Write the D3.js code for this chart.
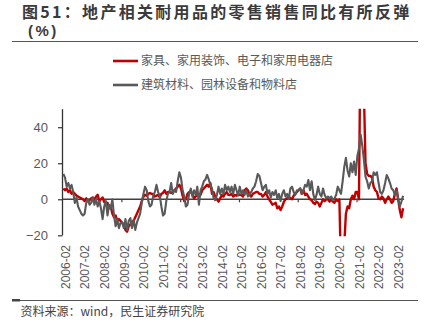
<!DOCTYPE html>
<html><head><meta charset="utf-8">
<script src="https://cdn.jsdelivr.net/npm/d3@7/dist/d3.min.js"></script>
<style>
html,body{margin:0;padding:0;background:#fff;}
svg{display:block;font-family:"Noto Sans CJK SC","Noto Sans",sans-serif;}
</style></head>
<body>
<svg id="chart" width="428" height="335"></svg>
<script>
// ---- data ----
const titleText = "图51：地产相关耐用品的零售销售同比有所反弹";
const unitText = "(%)";
const seriesNames = ["家具、家用装饰、电子和家用电器店", "建筑材料、园林设备和物料店"];
const sourceText = "资料来源：wind，民生证券研究院";
const startMonth = "2006-01";
const xTickLabels = ["2006-02","2007-02","2008-02","2009-02","2010-02","2011-02","2012-02","2013-02","2014-02","2015-02","2016-02","2017-02","2018-02","2019-02","2020-02","2021-02","2022-02","2023-02"];
const minorTickMonths = ["2009-01","2012-01","2015-01","2018-01","2021-01"];
const yTicks = [-20, 0, 20, 40];

// 家具、家用装饰、电子和家用电器店 (monthly YoY %, 2006-01 .. 2023-05)
const furniture = [
  6, 5, 6, 4, 5, 3, 4, 3, 2, 1.5, 1, 0.5,
  0, -1, 0.5, -1, -0.5, 0.5, 1, -0.5, 1.5, 2.5, -1, 0,
  1, -1.5, -3, -2, -5, -4, -8, -10, -9, -12, -11, -12,
  -13, -14, -17, -18, -15, -14, -12.5, -12, -10, -8, -6, -4,
  -1, 1.5, 2.5, 2, 3, 3.5, 3, 3, 1.5, 2, 2.4, 1,
  3, 3.5, 5, 3, 4, 4, 3.5, 4, 5, 6, 7, 8,
  6, 2, -1, 0, 3, 4, 4, 3, 0.5, 1.5, 2.4, 3,
  2.4, 5, 6, 7, 8, 7, 9, 3, 4, 1.5, 0, -1.3,
  0.5, 2.4, 1.5, 3, 4, 2.5, 2.4, 3, 1.5, 2.4, 2, 3,
  2.4, 2.4, 1.5, 5, 6, 5, 2.4, 1.5, 3, 3.5, 4, 4,
  3, 3, 1.5, 2.4, 4, 1.5, 0, -1.5, -3, -2.5, -2, -5,
  -4, -6, -4, -1.5, 0, 0.5, 1.5, 0.5, 0, 2, 3, 4,
  5, 6, 3, 5, 2.4, 3, 1.5, 0, -0.5, -2, -2.6, -1.3,
  -2, -4, -2, 0, -1, 0, 0, -1.3, 0, -1.3, -2, 0,
  -1, 0, -40, -65, -25, -8, -4, -5, 0, 2, 0, 4,
  4, 0, 100, 150, 60, 20, 14, 13, 13, 12, 7, 5,
  4, 0.5, 0, 1.5, 0.5, -2, 0, 1.5, 0, -2, -1, 3,
  6, 0, -6, -10, -5
];
// 建筑材料、园林设备和物料店
const building = [
  14, 12, 7, 9, 6, 8, 4, -2, 1, -4, -6, -8,
  -9, -8, -2, 0, -3, -2, 1, -3, 0, -4, -1, -5,
  -11, -4, -1, -9, -3, -5, 0, -9, -15, -11, -16, -13,
  -13, -16, -11, -17, -12, -10.5, -16, -11.5, -17, -13, -10.5, -8,
  -2, 3, 7, 5, -1, -4, -3, 2, 4, 8, 4, 2,
  -4, -9, -8, -1, 3, 4, 9, 3, 5, 4, 10, 15,
  12, 5, 1.5, -4, -3, 3, 6, 1.5, 5, 2.4, 7, -3,
  5, 7, 10, 11, 13.5, 11, 8, 6, 0.5, -0.5, 2.4, 7,
  3, 6, 3, 8, 5, 7, 4, 7, 3, 8, 5, 2,
  7, 3, 5, 2.4, 5, 1.5, 3, 4, 6, 7, 10, 14,
  13, 9, 5, 7, 8, 3, 5, 1, 4, 2.4, 5, 0.5,
  3, -1, 3, 5, 1.5, 3, 0, 6, 7, 4, 2.4, 5,
  5, 6, 3, 5, 8, 7, 10.7, 5, 10, 3, -0.4, 2.4,
  7, 3, 1.5, 6, 2.4, 0.5, 1.5, 0.5, 1.5, -0.4, 0.5, 2.4,
  7, 5, 3, 10, 18, 23, 16, 12.6, 20, 15, 21, 13.5,
  24, 28, 36, 30, 22, 12.6, 10, 6, 9, 10, 15, 13.5,
  15, 9, 4, 3, 5, 9, 13.5, 11.6, 9, 6, 5, 2.4,
  5, 0.5, -4, -1.3, 2
];

// ---- build categories ----
const fmt = d3.timeFormat("%Y-%m");
const parse = d3.timeParse("%Y-%m");
const months = d3.timeMonth.range(parse(startMonth), d3.timeMonth.offset(parse(startMonth), furniture.length)).map(fmt);

const svg = d3.select("#chart");

const x = d3.scalePoint().domain(months).range([63.4, 63.4 + 1.633 * (months.length - 1)]);
const y = d3.scaleLinear().domain([-20, 50]).range([235.3, 109.2]);

// title
svg.append("text").attr("x", 22).attr("y", 17.5)
  .attr("font-size", 16).attr("font-weight", "bold").attr("fill", "#3a3a3a")
  .attr("letter-spacing", "2.3px").text(titleText);
svg.append("text").attr("x", 28).attr("y", 35.5)
  .attr("font-size", 15).attr("font-weight", "bold").attr("fill", "#3a3a3a")
  .attr("font-family", "'Liberation Sans',Arial,sans-serif")
  .attr("letter-spacing", "2.5px").text(unitText);
svg.append("line").attr("x1", 12).attr("x2", 418).attr("y1", 41.5).attr("y2", 41.5)
  .attr("stroke", "#555").attr("stroke-width", 1.2);

// legend
const colors = ["#C00000", "#595959"];
const legendY = [61, 85];
seriesNames.forEach((n, i) => {
  svg.append("line").attr("x1", 113).attr("x2", 138).attr("y1", legendY[i]).attr("y2", legendY[i])
    .attr("stroke", colors[i]).attr("stroke-width", 2.6);
  svg.append("text").attr("x", 141).attr("y", legendY[i]).attr("dy", "0.36em")
    .attr("font-size", 12).attr("fill", "#595959").text(n);
});

// y axis
const yAxis = svg.append("g").attr("transform", "translate(62.5,0)")
  .call(d3.axisLeft(y).tickValues(yTicks).tickSize(4.5).tickPadding(10).tickSizeOuter(0));
yAxis.select(".domain").attr("stroke", "#333").attr("stroke-width", 1.3).attr("d", `M0,${y(50)}V${y(-20)}`);
yAxis.selectAll(".tick line").attr("stroke", "#333").attr("stroke-width", 1.2);
yAxis.selectAll("text").attr("font-size", 13).attr("fill", "#595959")
  .attr("font-family", "'Liberation Sans',Arial,sans-serif");

// zero axis line with ticks
const zeroAxis = svg.append("g").attr("transform", `translate(0,${y(0)})`)
  .call(d3.axisBottom(x).tickValues(minorTickMonths).tickSize(3).tickFormat("").tickSizeOuter(0));
zeroAxis.select(".domain").attr("stroke", "#404040").attr("stroke-width", 1.3)
  .attr("d", `M62.5,0H${x(months[months.length - 1]) + 1}`);
zeroAxis.selectAll(".tick line").attr("stroke", "#404040").attr("stroke-width", 1.2)
  .attr("transform", "translate(-0.8,0)");

// x labels
const xAxis = svg.append("g").attr("transform", "translate(0,236)")
  .call(d3.axisBottom(x).tickValues(xTickLabels).tickSize(0));
xAxis.select(".domain").remove();
xAxis.selectAll("text")
  .attr("transform", "rotate(-90)").attr("x", -9).attr("y", 0).attr("dy", "0.35em")
  .style("text-anchor", "end").attr("font-size", 12).attr("fill", "#595959")
  .attr("font-family", "'Liberation Sans',Arial,sans-serif");

// clip
svg.append("clipPath").attr("id", "plotclip").append("rect")
  .attr("x", 60).attr("y", y(50) - 0.5).attr("width", 360).attr("height", y(-20) - y(50) + 1.5);

const line = d3.line().x((d, i) => x(months[i])).y(d => y(d));
const plot = svg.append("g").attr("clip-path", "url(#plotclip)");
[furniture, building].forEach((s, i) => {
  plot.append("path").datum(s).attr("d", line).attr("fill", "none")
    .attr("stroke", colors[i]).attr("stroke-width", i === 0 ? 2.4 : 2.1)
    .attr("stroke-linejoin", "round");
});

// bottom rule & source
svg.append("line").attr("x1", 12).attr("x2", 418).attr("y1", 300.5).attr("y2", 300.5)
  .attr("stroke", "#555").attr("stroke-width", 1);
svg.append("rect").attr("x", 12).attr("y", 299).attr("width", 8).attr("height", 2.5).attr("fill", "#444");
svg.append("text").attr("x", 20.5).attr("y", 312).attr("dy", "0.36em")
  .attr("font-size", 12).attr("fill", "#444").text(sourceText);
</script>
</body></html>
